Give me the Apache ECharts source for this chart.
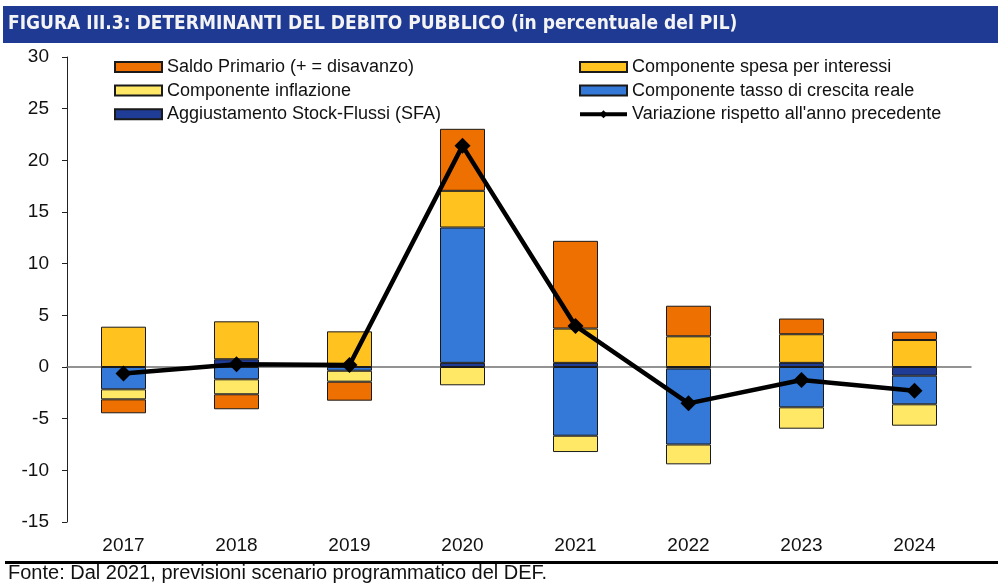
<!DOCTYPE html>
<html>
<head>
<meta charset="utf-8">
<script src="https://cdn.jsdelivr.net/npm/echarts@6/dist/echarts.min.js"></script>
<style>
  html, body { margin: 0; padding: 0; background: #fff; }
  #chart { width: 998px; height: 585px; }
</style>
</head>
<body>
<div id="chart"></div>
<script>
const years = ['2017', '2018', '2019', '2020', '2021', '2022', '2023', '2024']
// valori (in % del PIL)
const sfa = [0, 0.75, 0, 0.4, 0.4, -0.15, 0.4, -0.84]
const crescita = [-2.16, -1.19, -0.36, 13.1, -6.65, -7.35, -3.9, -2.77]
const inflazione = [-0.97, -1.45, -1.06, -1.77, -1.58, -1.92, -2.07, -2.07]
const interessi = [3.9, 3.67, 3.45, 3.55, 3.32, 2.97, 2.77, 2.61]
const saldo = [-1.35, -1.45, -1.84, 6.0, 8.49, 2.96, 1.52, 0.81]
const variazione = [-0.62, 0.26, 0.19, 21.4, 3.97, -3.52, -1.26, -2.29]

const FONT = '"Liberation Sans", Arial, sans-serif'
const border = { borderColor: '#1a1a1a', borderWidth: 1 }

function barSeries(name, data, color) {
  return {
    name,
    type: 'bar',
    stack: 'tot',
    barWidth: 45,
    data,
    itemStyle: Object.assign({ color }, border),
    emphasis: { disabled: true }
  }
}

const legendBase = {
  orient: 'vertical', top: 58, padding: 0,
  itemWidth: 47, itemHeight: 10, itemGap: 5.6,
  textStyle: { fontFamily: FONT, fontSize: 18, color: '#111', lineHeight: 17 }
}

const chart = echarts.init(document.getElementById('chart'))
chart.setOption({
  animation: false,
  grid: { left: 67, right: 27, top: 57, bottom: 63 },
  legend: [
    Object.assign({}, legendBase, {
      left: 114,
      data: [
        { name: 'Saldo Primario (+ = disavanzo)', icon: 'rect' },
        { name: 'Componente inflazione', icon: 'rect' },
        { name: 'Aggiustamento Stock-Flussi (SFA)', icon: 'rect' }
      ]
    }),
    Object.assign({}, legendBase, {
      left: 578,
      data: [
        { name: 'Componente spesa per interessi', icon: 'rect' },
        { name: 'Componente tasso di crescita reale', icon: 'rect' },
        { name: "Variazione rispetto all'anno precedente", lineStyle: { width: 4 } }
      ]
    })
  ],
  xAxis: [
    {
      type: 'category', data: years,
      axisLine: { onZero: true, lineStyle: { color: '#707070', width: 1.5 } },
      axisTick: { length: 5, lineStyle: { color: '#505050' } },
      axisLabel: { show: false }
    },
    {
      type: 'category', data: years, position: 'bottom',
      axisLine: { show: false }, axisTick: { show: false },
      axisLabel: { fontFamily: FONT, fontSize: 19, color: '#111', margin: 14 }
    }
  ],
  yAxis: {
    type: 'value', min: -15, max: 30, interval: 5,
    axisLine: { show: true, lineStyle: { color: '#222' } },
    axisTick: { show: true, length: 5, lineStyle: { color: '#222' } },
    splitLine: { show: false },
    axisLabel: { fontFamily: FONT, fontSize: 19, color: '#111', margin: 18 }
  },
  series: [
    barSeries('Aggiustamento Stock-Flussi (SFA)', sfa, '#1f3c96'),
    barSeries('Componente tasso di crescita reale', crescita, '#3479d8'),
    barSeries('Componente inflazione', inflazione, '#ffe866'),
    barSeries('Componente spesa per interessi', interessi, '#ffc21e'),
    barSeries('Saldo Primario (+ = disavanzo)', saldo, '#ee7000'),
    {
      name: "Variazione rispetto all'anno precedente",
      type: 'line',
      data: variazione,
      symbol: 'diamond',
      symbolSize: 16,
      lineStyle: { color: '#000', width: 4.5 },
      itemStyle: { color: '#000' },
      z: 5
    }
  ],
  graphic: [
    { type: 'rect', shape: { x: 3, y: 6, width: 995, height: 37 }, style: { fill: '#1f3a93' } },
    {
      type: 'text', x: 8, y: 24.5,
      style: {
        text: 'FIGURA III.3: DETERMINANTI DEL DEBITO PUBBLICO (in percentuale del PIL)',
        fill: '#f4f4f4', verticalAlign: 'middle',
        font: 'bold 19px "DejaVu Sans Condensed", "Liberation Sans Narrow", sans-serif'
      }
    },
    { type: 'rect', shape: { x: 5, y: 561, width: 993, height: 3 }, style: { fill: '#000' } },
    {
      type: 'text', x: 8, y: 573,
      style: {
        text: 'Fonte: Dal 2021, previsioni scenario programmatico del DEF.',
        fill: '#111', verticalAlign: 'middle',
        font: '20px "Liberation Sans", Arial, sans-serif'
      }
    }
  ]
})
</script>
</body>
</html>
